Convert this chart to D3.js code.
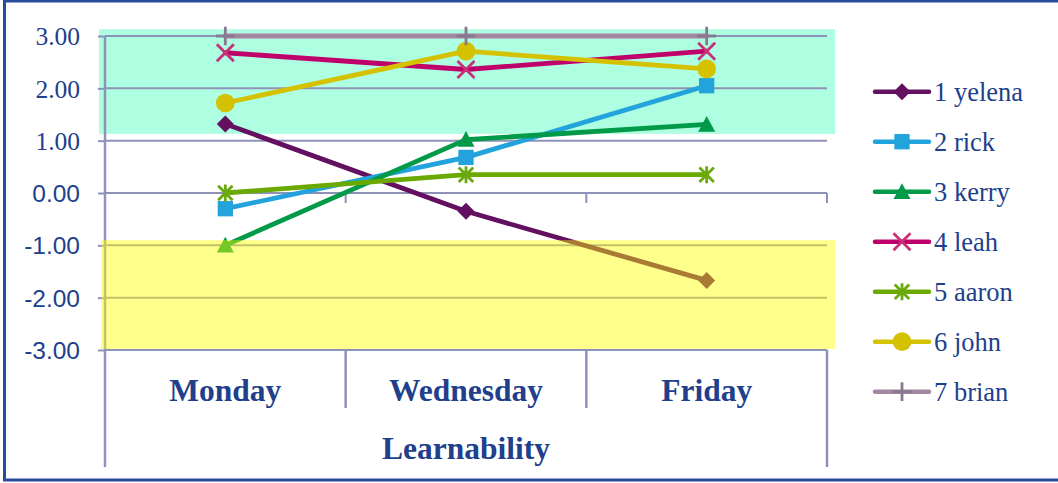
<!DOCTYPE html>
<html>
<head>
<meta charset="utf-8">
<script src="https://cdn.jsdelivr.net/npm/d3@7"></script>
<style>
  html, body { margin: 0; padding: 0; background: #fff; }
  svg { display: block; }
</style>
</head>
<body>
<svg id="chart" width="1058" height="483"></svg>
<script>
// ---- data ----
const categories = ["Monday", "Wednesday", "Friday"];
const seriesNames = ["1 yelena", "2 rick", "3 kerry", "4 leah", "5 aaron", "6 john", "7 brian"];
const yelena = [1.32, -0.35, -1.67];
const rick   = [-0.30, 0.68, 2.05];
const kerry  = [-1.00, 1.02, 1.31];
const leah   = [2.68, 2.36, 2.71];
const aaron  = [0.00, 0.35, 0.35];
const john   = [1.72, 2.71, 2.37];
const brian  = [3.00, 3.00, 3.00];
const yTicks = [3, 2, 1, 0, -1, -2, -3];
const axisTitle = "Learnability";
// shaded target zones (value ranges)
const upperZone = [1.13, 3.13];
const lowerZone = [-2.98, -0.90];

const seriesValues = [yelena, rick, kerry, leah, aaron, john, brian];

// ---- styles ----
const colors  = ["#62105F", "#22A3DB", "#009A48", "#C0006A", "#6AAA00", "#D4C200", "#A3869F"];
const mColors = ["#62105F", "#22A3DB", "#009A48", "#C8307A", "#6AAA10", "#D4C200", "#8A7890"];
const shapes  = ["diamond", "square", "triangle", "x", "star", "circle", "plus"];
const textColor = "#213F8C";
const gridColor = "#8F92B8";

const svg = d3.select("#chart");
const plotLeft = 105, plotRight = 827, plotTop = 36, plotBottom = 350;

const x = d3.scaleBand().domain(categories).range([plotLeft, plotRight]).paddingInner(0).paddingOuter(0);
const y = d3.scaleLinear().domain([-3, 3]).range([plotBottom, plotTop]);
const cx = c => x(c) + x.bandwidth() / 2;

const fmt = d3.formatLocale({decimal: ".", thousands: ",", grouping: [3], currency: ["$", ""], minus: "-"}).format(".2f");

// marker path builder
function markerPath(shape, s) {
  const p = d3.path();
  switch (shape) {
    case "diamond": p.moveTo(0, -s); p.lineTo(s, 0); p.lineTo(0, s); p.lineTo(-s, 0); p.closePath(); break;
    case "square": p.rect(-s * 0.9, -s * 0.9, s * 1.8, s * 1.8); break;
    case "triangle": p.moveTo(0, -s); p.lineTo(s, s * 0.85); p.lineTo(-s, s * 0.85); p.closePath(); break;
    case "circle": p.arc(0, 0, s * 1.1, 0, 2 * Math.PI); break;
    case "x": p.moveTo(-s, -s); p.lineTo(s, s); p.moveTo(s, -s); p.lineTo(-s, s); break;
    case "star": p.moveTo(-s * 0.85, -s * 0.85); p.lineTo(s * 0.85, s * 0.85); p.moveTo(s * 0.85, -s * 0.85); p.lineTo(-s * 0.85, s * 0.85);
                 p.moveTo(0, -s); p.lineTo(0, s); break;
    case "plus": p.moveTo(-s * 1.1, 0); p.lineTo(s * 1.1, 0); p.moveTo(0, -s * 1.1); p.lineTo(0, s * 1.1); break;
  }
  return p.toString();
}
const stroked = sh => sh === "x" || sh === "star" || sh === "plus";

function drawMarker(g, i, px, py) {
  const sh = shapes[i];
  const m = g.append("path")
    .attr("transform", `translate(${px},${py})`)
    .attr("d", markerPath(sh, 8.5));
  if (stroked(sh)) m.attr("fill", "none").attr("stroke", mColors[i]).attr("stroke-width", 2.8);
  else m.attr("fill", mColors[i]);
}

// upper zone (behind grid)
svg.append("rect")
  .attr("x", plotLeft - 6).attr("width", plotRight - plotLeft + 14)
  .attr("y", y(upperZone[1])).attr("height", y(upperZone[0]) - y(upperZone[1]))
  .attr("fill", "#AEFEE2");

// horizontal gridlines
svg.append("g").selectAll("line").data(yTicks).join("line")
  .attr("x1", plotLeft).attr("x2", plotRight)
  .attr("y1", d => y(d)).attr("y2", d => y(d))
  .attr("stroke", gridColor).attr("stroke-width", 2);

// value axis
const yAxis = svg.append("g").attr("transform", `translate(${plotLeft},0)`)
  .call(d3.axisLeft(y).tickValues(yTicks).tickFormat(fmt).tickSizeInner(7).tickSizeOuter(0).tickPadding(18));
yAxis.select(".domain").remove();
yAxis.selectAll(".tick line").attr("stroke", gridColor).attr("stroke-width", 2);
yAxis.selectAll(".tick text")
  .attr("fill", textColor)
  .attr("font-family", d => d > 0 ? "'Liberation Serif', 'Times New Roman', serif" : "'Liberation Sans', Arial, sans-serif")
  .attr("font-size", d => d > 0 ? 25.5 : 24.5)
  .attr("dy", "0.35em");

// vertical axis line and category frame
svg.append("line").attr("x1", plotLeft).attr("x2", plotLeft).attr("y1", plotTop).attr("y2", 467)
  .attr("stroke", gridColor).attr("stroke-width", 2.5);
const bounds = categories.map(c => x(c)).concat([plotRight]);
svg.append("g").selectAll("line").data(bounds.slice(1)).join("line")
  .attr("x1", d => d).attr("x2", d => d)
  .attr("y1", plotBottom).attr("y2", (d, i) => i === bounds.length - 2 ? 467 : 408)
  .attr("stroke", gridColor).attr("stroke-width", 2.5);
// tick marks on the zero line
svg.append("g").selectAll("line").data(bounds.slice(1)).join("line")
  .attr("x1", d => d).attr("x2", d => d)
  .attr("y1", y(0)).attr("y2", y(0) + 10)
  .attr("stroke", gridColor).attr("stroke-width", 2);

// category labels
svg.append("g").selectAll("text").data(categories).join("text")
  .attr("x", d => cx(d)).attr("y", 390).attr("dy", "0.35em")
  .attr("text-anchor", "middle")
  .attr("font-family", "'Liberation Serif', 'Times New Roman', serif")
  .attr("font-weight", "bold").attr("font-size", 31.5)
  .attr("fill", textColor)
  .text(d => d);

svg.append("text")
  .attr("x", (plotLeft + plotRight) / 2).attr("y", 448).attr("dy", "0.35em")
  .attr("text-anchor", "middle")
  .attr("font-family", "'Liberation Serif', 'Times New Roman', serif")
  .attr("font-weight", "bold").attr("font-size", 31.5)
  .attr("fill", textColor)
  .text(axisTitle);

// series
const line = d3.line().x((d, i) => cx(categories[i])).y(d => y(d));
const seriesG = svg.append("g");
seriesValues.forEach((vals, i) => {
  const g = seriesG.append("g");
  g.append("path").datum(vals).attr("d", line)
    .attr("fill", "none").attr("stroke", colors[i]).attr("stroke-width", 4.8)
    .attr("stroke-linejoin", "round").attr("stroke-linecap", "round");
  vals.forEach((v, j) => drawMarker(g, i, cx(categories[j]), y(v)));
});

// lower zone (translucent, over the series)
svg.append("rect")
  .attr("x", plotLeft - 4).attr("width", plotRight - plotLeft + 12)
  .attr("y", y(lowerZone[1])).attr("height", y(lowerZone[0]) - y(lowerZone[1]))
  .attr("fill", "#FFFF00").attr("fill-opacity", 0.45);

// legend
const legend = svg.append("g");
seriesNames.forEach((name, i) => {
  const ly = 91.7 + i * 50;
  const g = legend.append("g");
  g.append("line").attr("x1", 875).attr("x2", 929).attr("y1", ly).attr("y2", ly)
    .attr("stroke", colors[i]).attr("stroke-width", 4.5).attr("stroke-linecap", "round");
  drawMarker(g, i, 902, ly);
  g.append("text").attr("x", 934).attr("y", ly).attr("dy", "0.35em")
    .attr("font-family", "'Liberation Serif', 'Times New Roman', serif")
    .attr("font-size", 26.5).attr("fill", textColor)
    .text(name);
});

// outer frame
svg.append("rect").attr("x", 4.5).attr("y", 1).attr("width", 1070).attr("height", 479)
  .attr("fill", "none").attr("stroke", "#2B4C9C").attr("stroke-width", 3);
</script>
</body>
</html>
